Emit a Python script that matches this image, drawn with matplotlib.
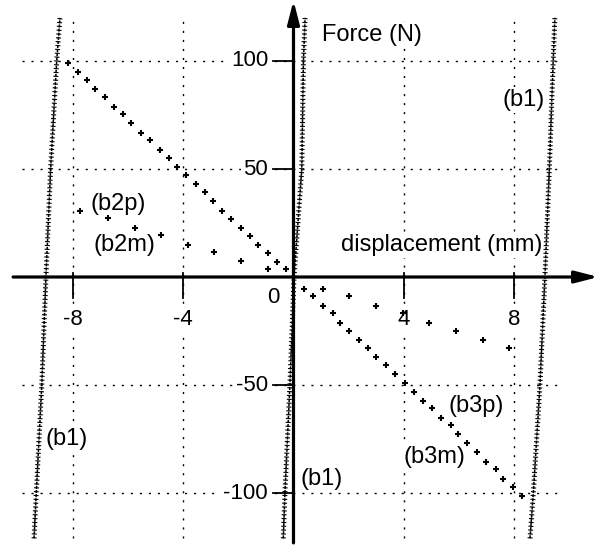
import matplotlib
matplotlib.use("Agg")
import matplotlib.pyplot as plt

plt.rcParams['font.family'] = ['Liberation Sans', 'DejaVu Sans']

# steep branch left of origin (b2p side)
b2_steep_x = [-8.16, -7.82, -7.47, -7.18, -6.84, -6.50, -6.17, -5.88, -5.54, -5.19,
              -4.85, -4.51, -4.23, -3.88, -3.54, -3.21, -2.93, -2.59, -2.25, -1.91,
              -1.58, -1.28, -0.94, -0.61, -0.27]
b2_steep_f = [99.2, 94.8, 91.2, 86.9, 83.3, 78.8, 75.3, 71.2, 66.7, 63.3,
              58.8, 55.2, 51.1, 47.4, 43.1, 39.2, 35.0, 30.6, 27.0, 22.7,
              19.1, 14.8, 11.3, 6.8, 3.5]
# shallow branch left of origin
b2_flat_x = [-7.74, -6.71, -5.74, -4.80, -3.83, -2.87, -1.90, -0.93]
b2_flat_f = [30.6, 27.3, 22.7, 19.4, 14.8, 11.4, 7.3, 3.6]

# steep branch right of origin (b3m)
b3_steep_x = [0.38, 0.72, 1.08, 1.42, 1.68, 2.02, 2.37, 2.71, 2.99, 3.35,
              3.68, 4.04, 4.38, 4.68, 5.02, 5.34, 5.70, 5.97, 6.28, 6.64,
              6.97, 7.33, 7.60, 7.94, 8.27]
b3_steep_f = [-5.6, -8.8, -13.4, -16.8, -21.1, -24.8, -29.2, -32.7, -36.9, -40.7,
              -45.1, -49.2, -53.1, -57.3, -60.8, -65.1, -68.7, -72.8, -76.7, -80.9,
              -85.5, -89.0, -93.4, -97.1, -101.2]
# shallow branch right of origin (b3p)
b3_flat_x = [1.06, 2.02, 2.99, 3.98, 4.92, 5.89, 6.86, 7.82]
b3_flat_f = [-5.6, -8.8, -13.4, -16.8, -21.1, -24.8, -29.2, -32.7]

# the three stiff (b1) branches
b1_f = [-121, -100, -50, 0, 50, 100, 120]
b1_left_x = [-9.40, -9.32, -9.12, -8.97, -8.80, -8.58, -8.46]
b1_mid_x = [-0.37, -0.31, -0.13, 0.02, 0.30, 0.36, 0.42]
b1_right_x = [8.57, 8.69, 8.93, 9.11, 9.27, 9.41, 9.47]

xticks = [-8, -4, 4, 8]
yticks = [-100, -50, 50, 100]

fig = plt.figure(figsize=(6.02, 5.48), dpi=100)
ax = fig.add_axes([0, 0, 1, 1])
ax.set_xlim(-10.634, 11.178)
ax.set_ylim(-125.46, 128.24)
ax.axis('off')

# dotted grid
grid_style = dict(color='black', lw=1.0, linestyle=(0, (1.5, 5)), zorder=1)
for xt in xticks:
    ax.plot([xt, xt], [-121, 120], **grid_style)
for yt in yticks:
    ax.plot([-9.84, 9.76], [yt, yt], **grid_style)

# axes with arrows
arr = dict(arrowstyle='-|>,head_length=0.7,head_width=0.18', lw=2.3, color='black',
           mutation_scale=20, shrinkA=0, shrinkB=0)
ax.annotate('', xy=(11.05, 0), xytext=(-10.16, 0), arrowprops=arr, zorder=4)
ax.annotate('', xy=(0, 128.0), xytext=(0, -123.1), arrowprops=arr, zorder=4)

# tick marks
for xt in xticks:
    ax.plot([xt, xt], [1.9, -9.7], color='black', lw=1.3, zorder=4)
for yt in yticks:
    ax.plot([-0.74, 0], [yt, yt], color='black', lw=1.3, zorder=4)

bg = dict(facecolor='white', edgecolor='none', pad=1.5)
for xt in xticks:
    ax.text(xt, -19.9, str(xt), ha='center', va='center', fontsize=16, bbox=bg, zorder=3)
for yt in yticks:
    ax.text(-0.92, yt, str(yt), ha='right', va='center', fontsize=16, bbox=bg, zorder=3)
ax.text(-0.73, -9.3, '0', ha='center', va='center', fontsize=16, bbox=bg, zorder=3)

# b1 branches: stacked "+" look (thin stem plus short wide arms)
stem = dict(color='black', lw=1.1, linestyle=(0, (2.0, 0.7)), zorder=5)
arms = dict(color='black', lw=3.6, linestyle=(0, (0.22, 0.55)), zorder=5)
for bx in (b1_left_x, b1_mid_x, b1_right_x):
    ax.plot(bx, b1_f, **stem)
    ax.plot(bx, b1_f, **arms)

mk = dict(linestyle='none', marker='+', markersize=5, markeredgewidth=1.5,
          color='black', zorder=6)
ax.plot(b2_steep_x, b2_steep_f, **mk)
ax.plot(b2_flat_x, b2_flat_f, **mk)
ax.plot(b3_steep_x, b3_steep_f, **mk)
ax.plot(b3_flat_x, b3_flat_f, **mk)

# labels
lab = dict(fontsize=17, va='center', bbox=bg, zorder=3)
ax.text(1.03, 112, 'Force (N)', ha='left', **lab)
ax.text(9.0, 14.8, 'displacement (mm)', ha='right', **lab)
ax.text(9.11, 81.9, '(b1)', ha='right', **lab)
ax.text(-7.37, 33.8, '(b2p)', ha='left', **lab)
ax.text(-7.26, 14.8, '(b2m)', ha='left', **lab)
ax.text(-9.0, -75, '(b1)', ha='left', **lab)
ax.text(5.6, -59.6, '(b3p)', ha='left', **lab)
ax.text(3.97, -83.2, '(b3m)', ha='left', **lab)
ax.text(0.24, -93.5, '(b1)', ha='left', **lab)

fig.savefig('out.png', dpi=100)
